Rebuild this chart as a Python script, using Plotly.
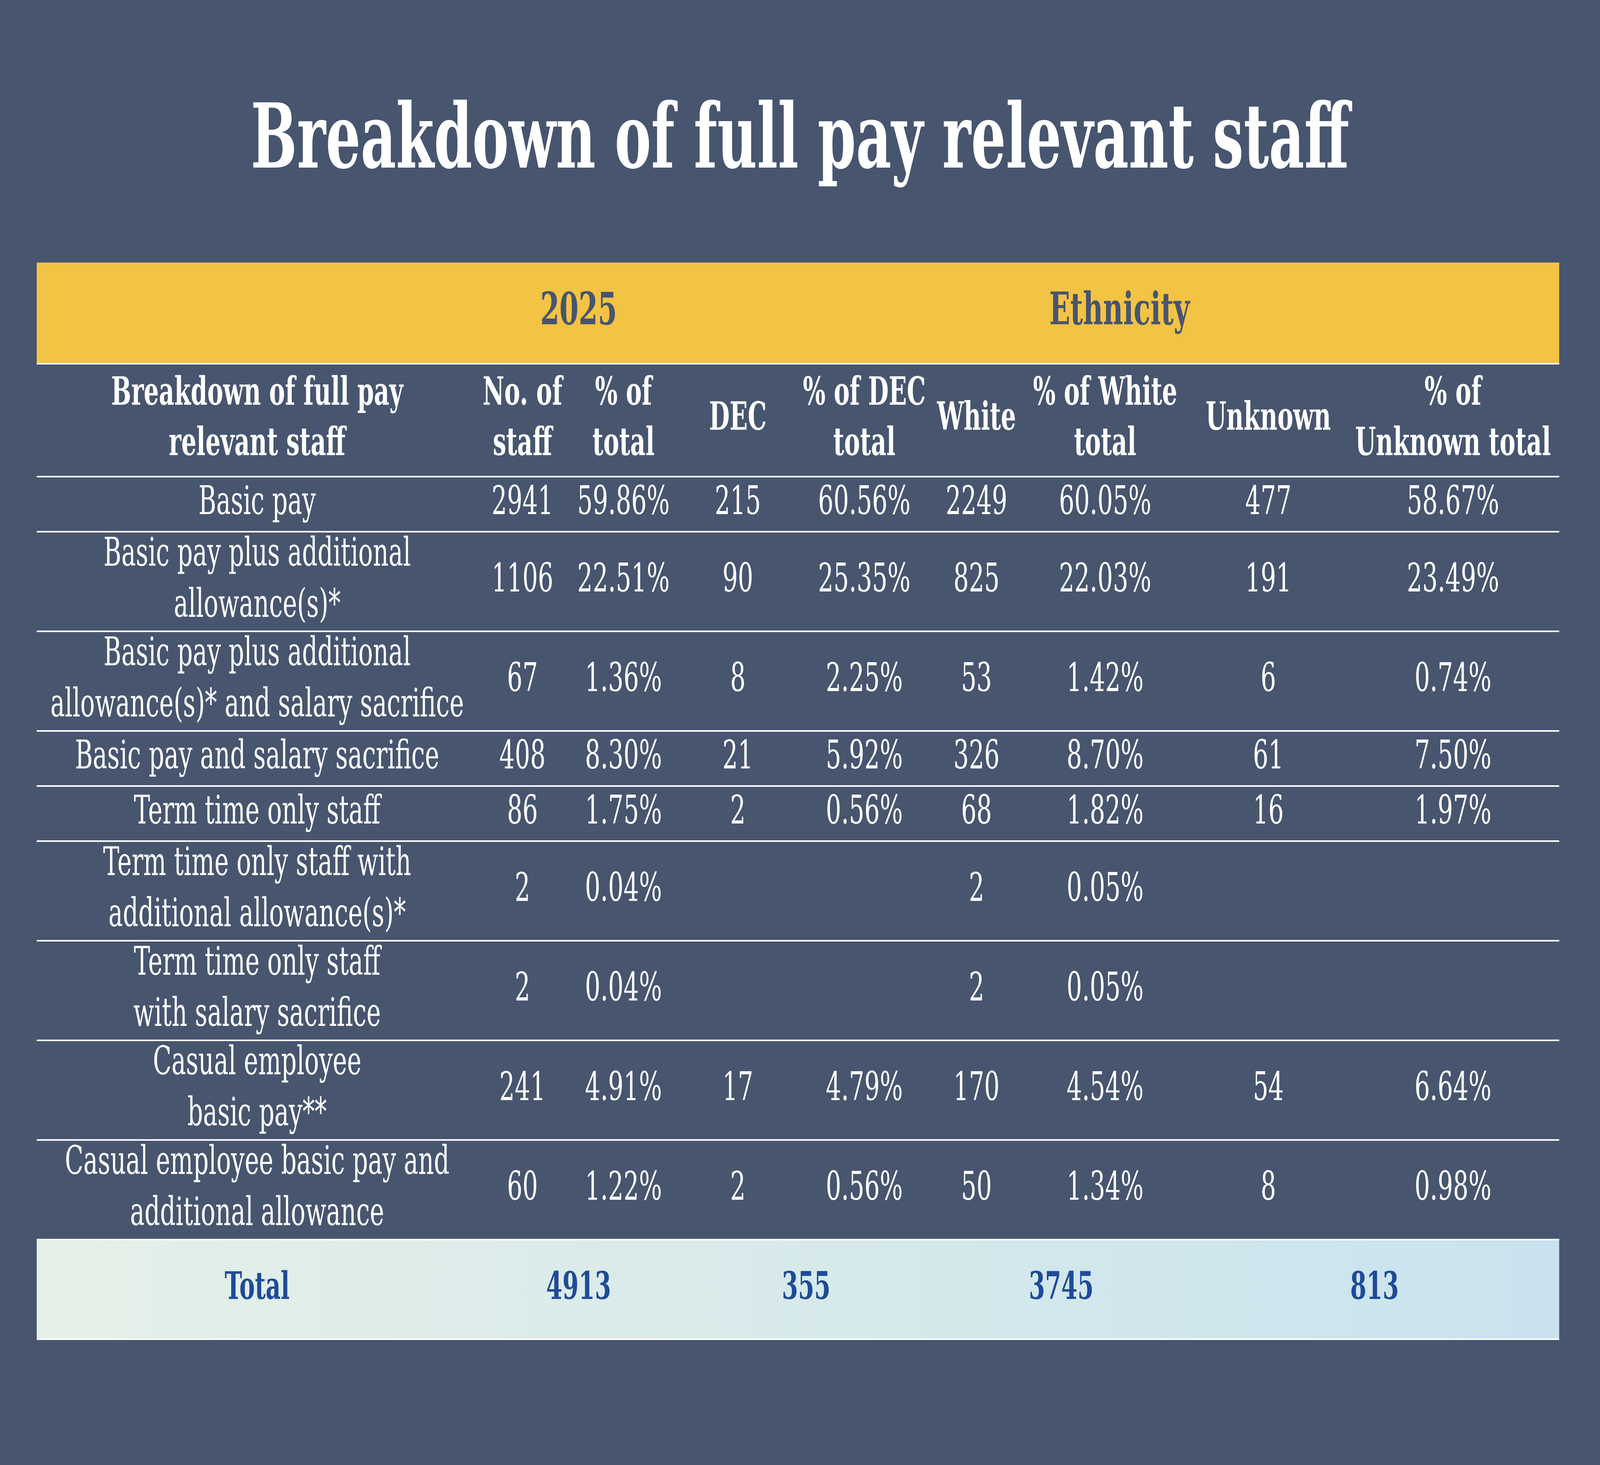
import plotly.graph_objects as go

# ---- data ----
categories = [
    "Basic pay",
    "Basic pay plus additional<br>allowance(s)*",
    "Basic pay plus additional<br>allowance(s)* and salary sacrifice",
    "Basic pay and salary sacrifice",
    "Term time only staff",
    "Term time only staff with<br>additional allowance(s)*",
    "Term time only staff<br>with salary sacrifice",
    "Casual employee<br>basic pay**",
    "Casual employee basic pay and<br>additional allowance",
]
staff = [2941, 1106, 67, 408, 86, 2, 2, 241, 60]
pct_total = [59.86, 22.51, 1.36, 8.30, 1.75, 0.04, 0.04, 4.91, 1.22]
dec = [215, 90, 8, 21, 2, None, None, 17, 2]
pct_dec = [60.56, 25.35, 2.25, 5.92, 0.56, None, None, 4.79, 0.56]
white = [2249, 825, 53, 326, 68, 2, 2, 170, 50]
pct_white = [60.05, 22.03, 1.42, 8.70, 1.82, 0.05, 0.05, 4.54, 1.34]
unknown = [477, 191, 6, 61, 16, None, None, 54, 8]
pct_unknown = [58.67, 23.49, 0.74, 7.50, 1.97, None, None, 6.64, 0.98]
totals = [4913, 355, 3745, 813]

headers = ["Breakdown of full pay<br>relevant staff", "No. of<br>staff", "% of<br>total",
           "DEC", "% of DEC<br>total", "White", "% of White<br>total", "Unknown",
           "% of<br>Unknown total"]
groups = ["2025", "Ethnicity"]

# ---- styling / layout ----
W, H = 6667, 3750
BG = "#47556F"
YELLOW = "#F3C343"
TOTAL_BLUE = "#1F4B98"
SERIF = "DejaVu Serif, serif"

# column edges in pixels
edges = [153, 1990, 2364, 2832, 3317, 3886, 4252, 4958, 5612, 6497]
centers = [(a + b) / 2 for a, b in zip(edges[:-1], edges[1:])]
left, right = edges[0], edges[-1]

band_top, band_bot = 672, 931
head_bot = 1220
ONE, TWO = 141, 255

# row boundaries
bounds = [head_bot]
for c in categories:
    bounds.append(bounds[-1] + (TWO if "<br>" in c else ONE))
total_top = bounds[-1]
total_bot = total_top + TWO
row_mid = [(a + b) / 2 for a, b in zip(bounds[:-1], bounds[1:])]


def fmt_n(v):
    return "" if v is None else str(v)


def fmt_p(v):
    return "" if v is None else "%.2f%%" % v


fig = go.Figure()

# yellow group band
fig.add_trace(go.Scatter(x=[left, right, right, left, left],
                         y=[band_top, band_top, band_bot, band_bot, band_top],
                         fill="toself", fillcolor=YELLOW, mode="lines",
                         line=dict(width=0), hoverinfo="skip"))
# total band with gradient
fig.add_trace(go.Scatter(x=[left, right, right, left, left],
                         y=[total_top, total_top, total_bot, total_bot, total_top],
                         fill="toself", mode="lines", line=dict(width=0),
                         fillgradient=dict(type="horizontal",
                                           colorscale=[[0, "#E5F0E8"], [1, "#C9E3EE"]]),
                         hoverinfo="skip"))

# group titles
group_x = [(edges[1] + edges[3]) / 2, (edges[3] + edges[9]) / 2]
fig.add_trace(go.Scatter(x=group_x, y=[(band_top + band_bot) / 2] * 2, text=groups,
                         mode="text", textfont=dict(family=SERIF, size=115, color=BG, weight="bold"),
                         hoverinfo="skip"))

# header row
fig.add_trace(go.Scatter(x=centers, y=[(band_bot + head_bot) / 2] * len(headers), text=headers,
                         mode="text", textfont=dict(family=SERIF, size=99, color="white", weight="bold"),
                         hoverinfo="skip"))

# body columns
columns = [categories,
           [fmt_n(v) for v in staff], [fmt_p(v) for v in pct_total],
           [fmt_n(v) for v in dec], [fmt_p(v) for v in pct_dec],
           [fmt_n(v) for v in white], [fmt_p(v) for v in pct_white],
           [fmt_n(v) for v in unknown], [fmt_p(v) for v in pct_unknown]]
for cx, col in zip(centers, columns):
    fig.add_trace(go.Scatter(x=[cx] * len(col), y=row_mid, text=col, mode="text",
                             textfont=dict(family=SERIF, size=101, color="white"),
                             hoverinfo="skip"))

# totals row
total_x = [centers[0]] + [(edges[i] + edges[i + 2]) / 2 for i in (1, 3, 5, 7)]
fig.add_trace(go.Scatter(x=total_x, y=[(total_top + total_bot) / 2] * 5,
                         text=["Total"] + [str(t) for t in totals], mode="text",
                         textfont=dict(family=SERIF, size=97, color=TOTAL_BLUE, weight="bold"),
                         hoverinfo="skip"))

# separator lines
for yv in [band_bot] + bounds + [total_bot]:
    fig.add_shape(type="line", x0=left, x1=right, y0=yv, y1=yv, xref="x", yref="y",
                  line=dict(color="white", width=4))

fig.update_layout(
    width=W, height=H, paper_bgcolor=BG, plot_bgcolor=BG, showlegend=False,
    margin=dict(l=0, r=0, t=0, b=0),
    title=dict(text="<b>Breakdown of full pay relevant staff</b>", x=0.5, xanchor="center",
               y=1 - 349 / H, yanchor="middle",
               font=dict(family=SERIF, size=228, color="white")),
    xaxis=dict(range=[0, W], visible=False, fixedrange=True),
    yaxis=dict(range=[H, 0], visible=False, fixedrange=True),
)

# stretch the fixed 6667x3750 figure over the whole window, no page margin
fit_js = """
var de = document.documentElement, bd = document.body;
de.style.margin = '0'; bd.style.margin = '0';
de.style.overflow = 'hidden'; bd.style.overflow = 'hidden';
de.style.background = '#47556F'; bd.style.background = '#47556F';
var gd = document.getElementById('{plot_id}');
var sx = window.innerWidth / 6667, sy = window.innerHeight / 3750;
gd.style.transformOrigin = '0 0';
gd.style.transform = 'scale(' + sx + ',' + sy + ')';
"""
fig.write_html("out.html", post_script=fit_js, config={"displayModeBar": False})
